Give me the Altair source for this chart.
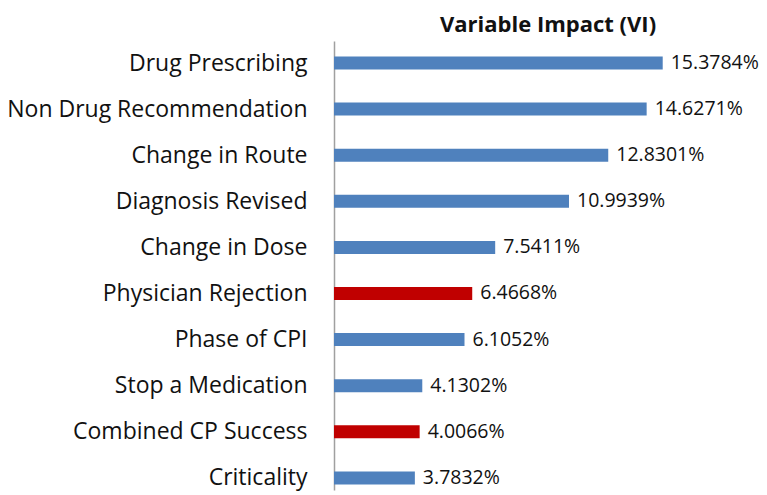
import altair as alt
import pandas as pd

categories = ["Drug Prescribing", "Non Drug Recommendation", "Change in Route",
              "Diagnosis Revised", "Change in Dose", "Physician Rejection",
              "Phase of CPI", "Stop a Medication", "Combined CP Success", "Criticality"]
values = [15.3784, 14.6271, 12.8301, 10.9939, 7.5411, 6.4668, 6.1052, 4.1302, 4.0066, 3.7832]
highlight = [False, False, False, False, False, True, False, False, True, False]

df = pd.DataFrame({
    "cat": categories,
    "val": values,
    "hl": ["red" if h else "blue" for h in highlight],
    "label": [f"{v:.4f}%" for v in values],
})

FONT = "Open Sans"

y = alt.Y("cat:N", sort=categories,
          scale=alt.Scale(type="point", padding=0.37, align=0.645),
          axis=alt.Axis(title=None, ticks=False, labelFontSize=23, labelFont=FONT,
                        labelColor="#111111", labelPadding=27, labelLimit=400,
                        domainColor="#a0a0a0", domainWidth=1.5, grid=False))
x = alt.X("val:Q", scale=alt.Scale(domain=[0, 16], nice=False),
          axis=None)

bars = alt.Chart(df).mark_bar(size=13).encode(
    x=x, y=y,
    color=alt.Color("hl:N", scale=alt.Scale(domain=["blue", "red"], range=["#4F81BD", "#C00000"]),
                    legend=None),
)
text = alt.Chart(df).mark_text(align="left", baseline="middle", dx=8, fontSize=19.5,
                               font=FONT, color="#111111").encode(
    x=x, y=y, text="label:N")

chart = (bars + text).properties(
    width=342, height=449,
    autosize=alt.AutoSizeParams(type="none"),
    padding={"left": 326, "top": 33, "right": 83, "bottom": 4},
    title=alt.TitleParams("Variable Impact (VI)", fontSize=22, font=FONT, fontWeight="bold",
                          anchor="start", frame="group", dx=106, offset=4, color="#111111"),
).configure_view(stroke=None)

chart.save("out.html", embed_options={"renderer": "svg", "actions": False})
